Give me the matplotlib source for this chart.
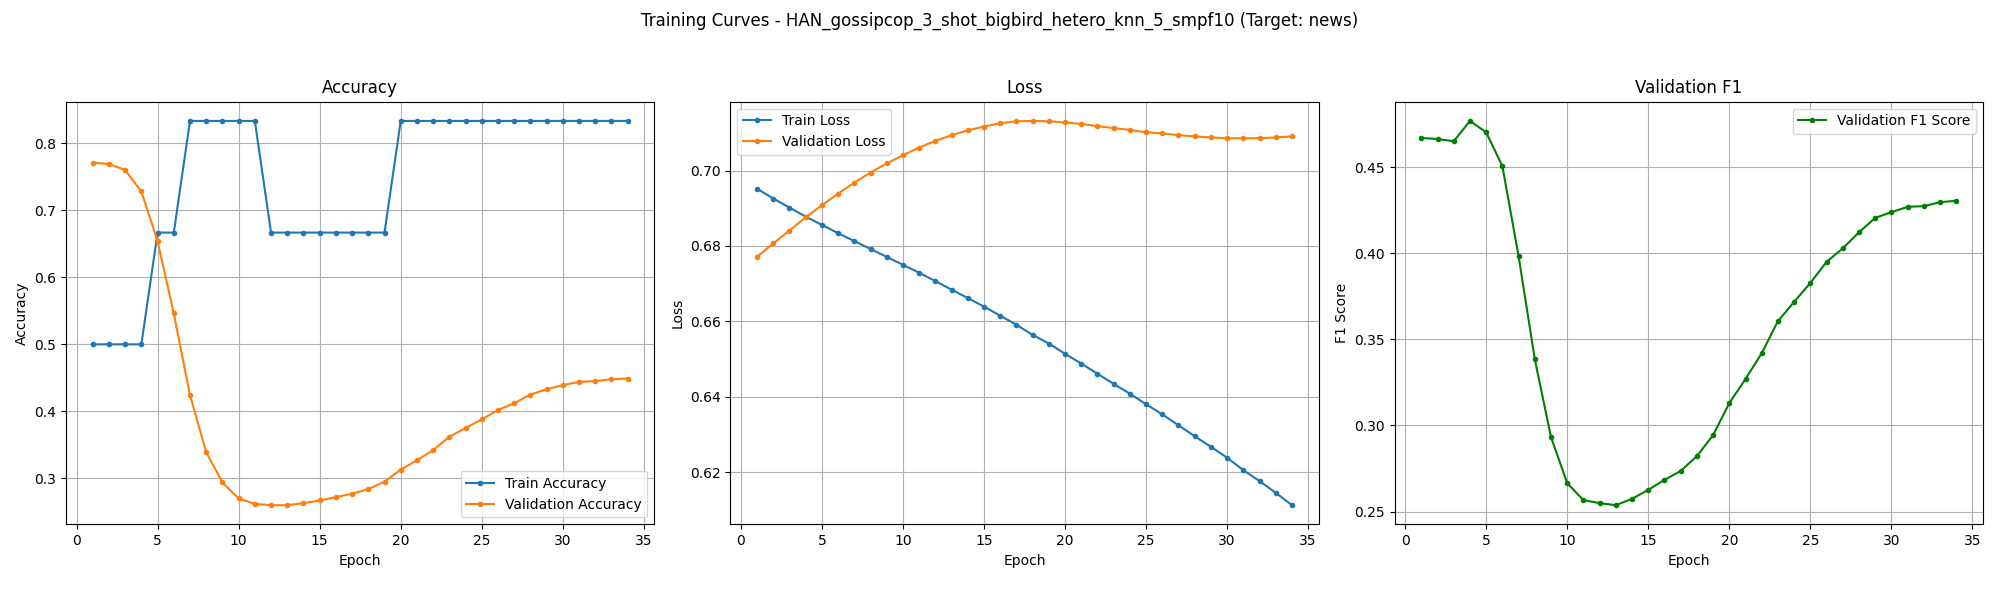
import matplotlib
matplotlib.use("Agg")
import matplotlib.pyplot as plt

epochs = list(range(1, 35))

train_acc = [0.5, 0.5, 0.5, 0.5, 0.6667, 0.6667, 0.8333, 0.8333, 0.8333, 0.8333,
             0.8333, 0.6667, 0.6667, 0.6667, 0.6667, 0.6667, 0.6667, 0.6667, 0.6667, 0.8333,
             0.8333, 0.8333, 0.8333, 0.8333, 0.8333, 0.8333, 0.8333, 0.8333, 0.8333, 0.8333,
             0.8333, 0.8333, 0.8333, 0.8333]
val_acc = [0.771, 0.769, 0.760, 0.728, 0.654, 0.546, 0.424, 0.339, 0.294, 0.270,
           0.262, 0.260, 0.260, 0.263, 0.267, 0.272, 0.277, 0.284, 0.295, 0.313,
           0.327, 0.342, 0.362, 0.375, 0.388, 0.402, 0.412, 0.425, 0.433, 0.439,
           0.444, 0.445, 0.448, 0.449]

train_loss = [0.6952, 0.6926, 0.6902, 0.6878, 0.6856, 0.6834, 0.6813, 0.6792, 0.6771, 0.6750,
              0.6729, 0.6707, 0.6684, 0.6662, 0.6639, 0.6615, 0.6591, 0.6564, 0.6541, 0.6514,
              0.6488, 0.6461, 0.6434, 0.6408, 0.6380, 0.6353, 0.6324, 0.6295, 0.6267, 0.6238,
              0.6205, 0.6176, 0.6145, 0.6112]
val_loss = [0.6771, 0.6807, 0.6841, 0.6876, 0.6908, 0.6939, 0.6968, 0.6995, 0.7019, 0.7041,
            0.7061, 0.7079, 0.7094, 0.7107, 0.7117, 0.7126, 0.7131, 0.7132, 0.7131, 0.7128,
            0.7124, 0.7118, 0.7113, 0.7108, 0.7102, 0.7099, 0.7094, 0.7091, 0.7088, 0.7086,
            0.7086, 0.7086, 0.7088, 0.7091]

val_f1 = [0.4670, 0.4664, 0.4651, 0.4769, 0.4703, 0.4506, 0.3983, 0.3384, 0.2932, 0.2665,
          0.2566, 0.2549, 0.2537, 0.2574, 0.2626, 0.2684, 0.2736, 0.2822, 0.2944, 0.3130,
          0.3270, 0.3420, 0.3606, 0.3718, 0.3828, 0.3950, 0.4029, 0.4122, 0.4206, 0.4239,
          0.4270, 0.4274, 0.4297, 0.4305]

fig, axes = plt.subplots(1, 3, figsize=(20, 6), dpi=100)

ax = axes[0]
ax.plot(epochs, train_acc, marker='.', label='Train Accuracy')
ax.plot(epochs, val_acc, marker='.', label='Validation Accuracy')
ax.set_title('Accuracy')
ax.set_xlabel('Epoch')
ax.set_ylabel('Accuracy')
ax.legend(loc='lower right')
ax.grid(True)

ax = axes[1]
ax.plot(epochs, train_loss, marker='.', label='Train Loss')
ax.plot(epochs, val_loss, marker='.', label='Validation Loss')
ax.set_title('Loss')
ax.set_xlabel('Epoch')
ax.set_ylabel('Loss')
ax.legend(loc='upper left')
ax.grid(True)

ax = axes[2]
ax.plot(epochs, val_f1, marker='.', color='green', label='Validation F1 Score')
ax.set_title('Validation F1')
ax.set_xlabel('Epoch')
ax.set_ylabel('F1 Score')
ax.legend(loc='upper right')
ax.grid(True)

fig.suptitle('Training Curves - HAN_gossipcop_3_shot_bigbird_hetero_knn_5_smpf10 (Target: news)')
fig.subplots_adjust(left=0.033, right=0.9915, bottom=0.126, top=0.8305, wspace=0.129)
fig.savefig('out.png')
